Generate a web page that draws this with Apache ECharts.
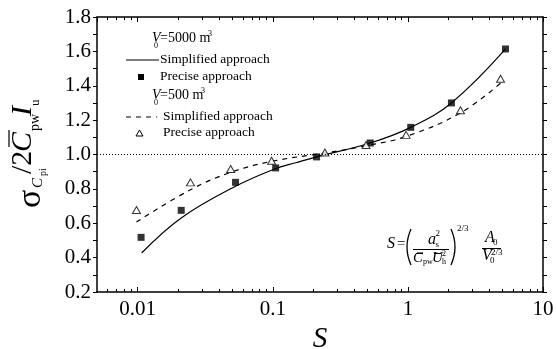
<!DOCTYPE html>
<html lang="en">
<head>
    <meta charset="utf-8">
    <title>sigma vs S</title>
    <script src="https://cdn.jsdelivr.net/npm/echarts@6/dist/echarts.min.js"></script>
    <style>
        html, body { margin: 0; padding: 0; background: #fff; }
        #main { width: 556px; height: 349px; }
    </style>
</head>
<body>
<div id="main"></div>
<script type="text/javascript">
    // V0 = 5000 m3
    var sSimple5000 = [0.0107, 0.021, 0.053, 0.105, 0.148, 0.211, 0.526, 1.05, 2.1, 5.28];
    var vSimple5000 = [0.427, 0.631, 0.815, 0.918, 0.952, 0.986, 1.067, 1.158, 1.300, 1.614];
    var sPrecise5000 = [0.0106, 0.021, 0.053, 0.105, 0.211, 0.526, 1.05, 2.1, 5.28];
    var vPrecise5000 = [0.518, 0.675, 0.838, 0.922, 0.986, 1.067, 1.158, 1.300, 1.614];
    // V0 = 500 m3
    var sSimple500 = [0.0098, 0.0246, 0.0488, 0.098, 0.243, 0.49, 0.97, 2.45, 4.85];
    var vSimple500 = [0.607, 0.795, 0.896, 0.960, 1.009, 1.051, 1.105, 1.242, 1.415];
    var sPrecise500 = [0.0098, 0.0246, 0.0488, 0.098, 0.243, 0.49, 0.97, 2.45, 4.85];
    var vPrecise500 = [0.677, 0.838, 0.916, 0.964, 1.012, 1.055, 1.114, 1.257, 1.441];

    var refLevel = 1.0;
    var xMin = 0.005, xMax = 10;
    // minor tick values of the log axis (2..9 in each decade)
    var xMinorTicks = [0.006, 0.007, 0.008, 0.009,
        0.02, 0.03, 0.04, 0.05, 0.06, 0.07, 0.08, 0.09,
        0.2, 0.3, 0.4, 0.5, 0.6, 0.7, 0.8, 0.9,
        2, 3, 4, 5, 6, 7, 8, 9];

    function pairs(xs, ys) {
        var out = [];
        for (var i = 0; i < xs.length; i++) out.push([xs[i], ys[i]]);
        return out;
    }

    var SERIF = 'Liberation Serif';
    // text placed by its baseline
    function T(x, base, text, size, italic, align) {
        return {
            type: 'text',
            x: x, y: base - 0.34 * size,
            style: {
                text: text,
                font: (italic ? 'italic ' : '') + size + 'px "' + SERIF + '"',
                fill: '#000',
                textAlign: align || 'left',
                textVerticalAlign: 'middle'
            }
        };
    }
    function L(x1, y1, x2, y2, w, dash) {
        return {
            type: 'line',
            shape: {x1: x1, y1: y1, x2: x2, y2: y2},
            style: {stroke: '#000', lineWidth: w || 1, lineDash: dash || null},
            z: 10
        };
    }

    var chart = echarts.init(document.getElementById('main'), null, {renderer: 'canvas'});

    var axisLineStyle = {color: '#000', width: 1.5};
    function minorAxis(pos) {
        return {
            type: 'log', logBase: 10, min: xMin, max: xMax,
            position: pos,
            axisLine: {show: false},
            axisTick: {show: true, inside: true, length: 3, customValues: xMinorTicks,
                lineStyle: {color: '#000', width: 1}},
            axisLabel: {show: false},
            splitLine: {show: false}
        };
    }
    var option = {
        animation: false,
        backgroundColor: '#fff',
        grid: {left: 97, right: 13, top: 17, bottom: 57, containLabel: false, outerBoundsMode: 'none'},
        xAxis: [{
            type: 'log', logBase: 10, min: xMin, max: xMax,
            position: 'bottom',
            axisLine: {lineStyle: axisLineStyle},
            axisTick: {inside: true, length: 5, lineStyle: {color: '#000', width: 1}},
            axisLabel: {
                color: '#000', fontFamily: SERIF, fontSize: 21, margin: 7,
                showMinLabel: false,
                formatter: function (v) { return String(v); }
            },
            splitLine: {show: false},
            name: 'S', nameLocation: 'middle', nameGap: 27,
            nameTextStyle: {fontFamily: SERIF, fontStyle: 'italic', fontSize: 29, color: '#000'}
        }, {
            type: 'log', logBase: 10, min: xMin, max: xMax,
            position: 'top',
            axisLine: {lineStyle: axisLineStyle},
            axisTick: {inside: true, length: 5, lineStyle: {color: '#000', width: 1}},
            axisLabel: {show: false},
            splitLine: {show: false}
        }, minorAxis('bottom'), minorAxis('top')],
        yAxis: [{
            type: 'value', min: 0.2, max: 1.8, interval: 0.2,
            position: 'left',
            axisLine: {show: true, lineStyle: axisLineStyle},
            axisTick: {show: true, length: 4, lineStyle: {color: '#000', width: 1}},
            minorTick: {show: true, splitNumber: 2, length: 4, lineStyle: {color: '#000', width: 1}},
            axisLabel: {
                color: '#000', fontFamily: SERIF, fontSize: 21, margin: 6,
                formatter: function (v) { return v.toFixed(1); }
            },
            splitLine: {show: false}
        }, {
            type: 'value', min: 0.2, max: 1.8, interval: 0.1,
            position: 'right',
            axisLine: {show: true, lineStyle: axisLineStyle},
            axisTick: {show: true, length: 4, lineStyle: {color: '#000', width: 1}},
            axisLabel: {show: false},
            splitLine: {show: false}
        }],
        series: [{
            name: 'Simplified 5000',
            type: 'line',
            data: pairs(sSimple5000, vSimple5000),
            smooth: 0.4,
            symbol: 'none',
            lineStyle: {color: '#000', width: 1.2},
            markLine: {
                silent: true,
                symbol: 'none',
                label: {show: false},
                lineStyle: {color: '#000', width: 1, type: [1, 2]},
                data: [{yAxis: refLevel}]
            },
            z: 3
        }, {
            name: 'Simplified 500',
            type: 'line',
            data: pairs(sSimple500, vSimple500),
            smooth: 0.4,
            symbol: 'none',
            lineStyle: {color: '#000', width: 1.2, type: [5, 5]},
            z: 3
        }, {
            name: 'Precise 5000',
            type: 'scatter',
            data: pairs(sPrecise5000, vPrecise5000),
            symbol: 'rect',
            symbolSize: 7,
            itemStyle: {color: '#000'},
            z: 4
        }, {
            name: 'Precise 500',
            type: 'scatter',
            data: pairs(sPrecise500, vPrecise500),
            symbol: 'triangle',
            symbolSize: [8, 7],
            itemStyle: {color: '#fff', borderColor: '#000', borderWidth: 1},
            z: 4
        }]
    };

    // legend
    var legend = [
        T(152, 43, 'V', 14, true),
        T(154, 49, '0', 8, false),
        T(160, 43, '=5000 m', 14, false),
        T(208, 37, '3', 8, false),
        L(126, 60, 159, 60, 1.2),
        T(160, 64, 'Simplified approach', 13.5, false),
        {type: 'rect', shape: {x: 138, y: 74, width: 6, height: 6}, style: {fill: '#000'}},
        T(160, 81, 'Precise approach', 13.5, false),
        T(152, 100, 'V', 14, true),
        T(154, 106, '0', 8, false),
        T(160, 100, '=500 m', 14, false),
        T(201, 94, '3', 8, false),
        L(126, 117, 157, 117, 1.2, [5, 5]),
        T(163, 121, 'Simplified approach', 13.5, false),
        {type: 'polygon', shape: {points: [[139.5, 130], [136, 136], [143, 136]]},
            style: {fill: '#fff', stroke: '#000', lineWidth: 1}},
        T(163, 137, 'Precise approach', 13.5, false)
    ];

    // y axis title, written along a rotated group (reads bottom to top)
    var yTitle = {
        type: 'group',
        x: 33, y: 212,
        rotation: Math.PI / 2,
        children: [
            T(4, 10, 'σ', 34, false),
            T(24, 10, 'C', 15, true),
            T(36, 14, 'pi', 10, false),
            T(38, 0, '/2', 30, false),
            T(60, 0, 'C', 30, true),
            L(65, -24, 82, -24, 1.2),
            T(81, 7, 'pw', 14, false),
            T(96, 0, 'I', 30, true),
            T(106, 7, 'u', 13, false)
        ]
    };

    // formula for S
    var formula = [
        T(387, 249, 'S', 16, true),
        T(397, 249, '=', 15, false),
        {type: 'bezierCurve', shape: {x1: 411, y1: 229, x2: 411, y2: 265, cpx1: 403, cpy1: 247},
            style: {stroke: '#000', lineWidth: 1.3, fill: null}},
        T(428, 245.5, 'a', 16, true),
        T(435.5, 237, '2', 9, false),
        T(435.5, 248, 's', 9, false),
        L(413, 249.5, 449, 249.5, 1),
        T(413, 263, 'C', 15, true),
        L(416, 253.5, 423, 253.5, 1),
        T(423, 265, 'pw', 8, false),
        T(432, 263, 'U', 15, true),
        L(434, 253.5, 441, 253.5, 1),
        T(442, 257, '2', 8, false),
        T(442, 265, 'h', 8, false),
        {type: 'bezierCurve', shape: {x1: 451, y1: 229, x2: 451, y2: 265, cpx1: 459, cpy1: 247},
            style: {stroke: '#000', lineWidth: 1.3, fill: null}},
        T(457, 232, '2/3', 9, false),
        T(485, 243, 'A', 16, true),
        T(493, 246, '0', 9, false),
        L(482, 248.5, 501, 248.5, 1),
        T(482, 261, 'V', 16, true),
        T(491, 256, '2/3', 9, false),
        T(490, 264, '0', 9, false)
    ];

    option.graphic = [{type: 'group', children: legend}, yTitle, {type: 'group', children: formula}];
    chart.setOption(option);
</script>
</body>
</html>
